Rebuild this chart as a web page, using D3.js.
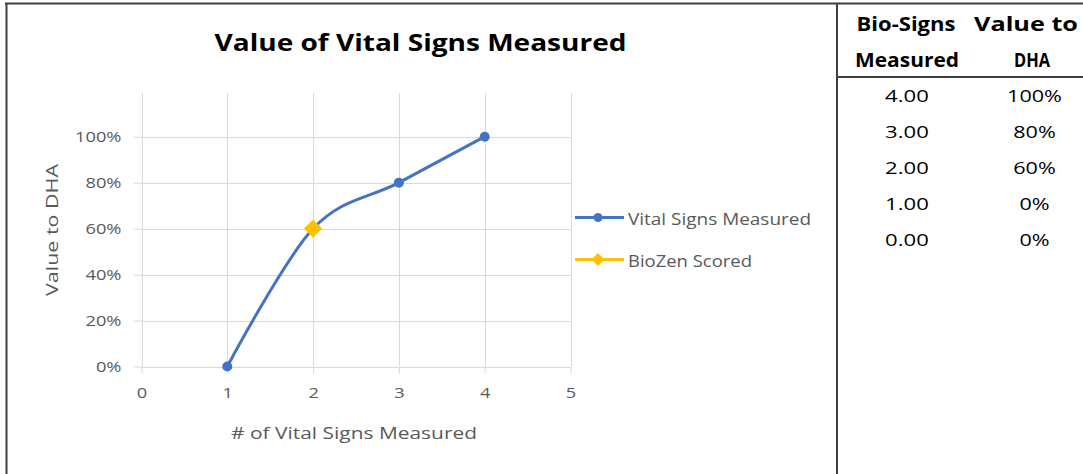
<!DOCTYPE html>
<html>
<head>
<meta charset="utf-8">
<script src="https://cdn.jsdelivr.net/npm/d3@7"></script>
<style>
  html, body { margin: 0; padding: 0; background: #fff; }
  svg { display: block; }
  text { font-family: "Open Sans", "Noto Sans", sans-serif; }
</style>
</head>
<body>
<svg id="chart" width="1083" height="474"></svg>
<script>
// ---- data ----
const vitalCounts = [1, 2, 3, 4];
const vitalValues = [0, 0.6, 0.8, 1.0];
const bioZenCounts = [2];
const bioZenValues = [0.6];
const xTickValues = [0, 1, 2, 3, 4, 5];
const yTickValues = [0, 0.2, 0.4, 0.6, 0.8, 1.0];
const seriesNames = ["Vital Signs Measured", "BioZen Scored"];
const tableHeaders = [["Bio-Signs", "Measured"], ["Value to", "DHA"]];
const tableSigns = [4, 3, 2, 1, 0];
const tableDha = [1.0, 0.8, 0.6, 0, 0];

const BLUE = "#4472C4", GOLD = "#FFC000", GREY_TXT = "#595959", GRID = "#d9d9d9";

const svg = d3.select("#chart");

// stretch a text element along its writing direction to a given length
function fitTo(sel, len) {
  sel.attr("textLength", len).attr("lengthAdjust", "spacingAndGlyphs");
}
function widen(sel, k) {
  sel.each(function () {
    const w = this.getComputedTextLength();
    d3.select(this).attr("textLength", w * k).attr("lengthAdjust", "spacingAndGlyphs");
  });
}

// ---- frame ----
const frame = svg.append("g").attr("fill", "none").attr("stroke", "#3f3f3f").attr("stroke-width", 2);
frame.append("line").attr("x1", 5).attr("x2", 1083).attr("y1", 3.5).attr("y2", 3.5);
frame.append("line").attr("x1", 6.5).attr("x2", 6.5).attr("y1", 3).attr("y2", 474);
frame.append("line").attr("x1", 837).attr("x2", 837).attr("y1", 3).attr("y2", 474);
frame.append("line").attr("x1", 837).attr("x2", 1083).attr("y1", 77).attr("y2", 77);

// ---- scales ----
const x = d3.scaleLinear().domain([0, 5]).range([141.5, 570.5]);
const y = d3.scaleLinear().domain([0, 1.19]).range([366.5, 93]);

// gridlines
const grid = svg.append("g").attr("stroke", GRID).attr("stroke-width", 1);
grid.selectAll("line.v").data(xTickValues).join("line").attr("class", "v")
  .attr("x1", d => Math.round(x(d)) + 0.5).attr("x2", d => Math.round(x(d)) + 0.5)
  .attr("y1", y.range()[1]).attr("y2", y(0));
grid.selectAll("line.h").data(yTickValues).join("line").attr("class", "h")
  .attr("x1", x(0)).attr("x2", x(5))
  .attr("y1", d => Math.round(y(d)) + 0.5).attr("y2", d => Math.round(y(d)) + 0.5);

// axes
const xAxis = svg.append("g").attr("transform", `translate(0,${Math.round(y(0)) + 0.5})`)
  .call(d3.axisBottom(x).tickValues(xTickValues).tickSize(6).tickPadding(14).tickFormat(d3.format("d")));
const yAxis = svg.append("g").attr("transform", `translate(${Math.round(x(0)) + 0.5},0)`)
  .call(d3.axisLeft(y).tickValues(yTickValues).tickSize(9).tickPadding(12).tickFormat(d3.format(".0%")));
[xAxis, yAxis].forEach(a => {
  a.select(".domain").remove();
  a.selectAll(".tick line").attr("stroke", GRID);
  a.selectAll(".tick text").attr("fill", GREY_TXT).attr("font-size", 15)
    .style("font-family", '"Open Sans", sans-serif');
});
xAxis.append("line").attr("x1", x(0)).attr("x2", x(5)).attr("stroke", GRID);
widen(xAxis.selectAll(".tick text"), 1.22);
widen(yAxis.selectAll(".tick text"), 1.22);

// ---- series ----
const vitalPts = vitalCounts.map((c, i) => [c, vitalValues[i]]);
const line = d3.line().x(d => x(d[0])).y(d => y(d[1])).curve(d3.curveCardinal.tension(0));
svg.append("path").datum(vitalPts).attr("d", line)
  .attr("fill", "none").attr("stroke", BLUE).attr("stroke-width", 3).attr("stroke-linecap", "round");
svg.selectAll("circle.vital").data(vitalPts).join("circle").attr("class", "vital")
  .attr("cx", d => x(d[0])).attr("cy", d => y(d[1])).attr("r", 5).attr("fill", BLUE);

const bioPts = bioZenCounts.map((c, i) => [c, bioZenValues[i]]);
const diamond = d3.symbol().type(d3.symbolDiamond2).size(210);
svg.selectAll("path.bio").data(bioPts).join("path").attr("class", "bio")
  .attr("d", diamond).attr("transform", d => `translate(${x(d[0])},${y(d[1])})`).attr("fill", GOLD);

// ---- title & axis titles ----
svg.append("text").attr("x", 420.5).attr("y", 51).attr("text-anchor", "middle")
  .attr("font-size", 23).attr("font-weight", "bold").attr("fill", "#000")
  .text("Value of Vital Signs Measured").call(fitTo, 412);
svg.append("text").attr("x", 354).attr("y", 439).attr("text-anchor", "middle")
  .attr("font-size", 17).attr("fill", GREY_TXT)
  .text("# of Vital Signs Measured").call(fitTo, 246);
svg.append("text").attr("transform", "translate(58,230) rotate(-90)").attr("text-anchor", "middle")
  .attr("font-size", 17).attr("fill", GREY_TXT)
  .text("Value to DHA").call(fitTo, 132);

// ---- legend ----
const legend = svg.append("g");
const legendRows = [
  { name: seriesNames[0], color: BLUE, shape: "circle", y: 217.5, len: 183 },
  { name: seriesNames[1], color: GOLD, shape: "diamond", y: 259.5, len: 124 }
];
legendRows.forEach(r => {
  legend.append("line").attr("x1", 575).attr("x2", 624).attr("y1", r.y).attr("y2", r.y)
    .attr("stroke", r.color).attr("stroke-width", 3);
  if (r.shape === "circle") {
    legend.append("circle").attr("cx", 598).attr("cy", r.y).attr("r", 4.5).attr("fill", r.color);
  } else {
    legend.append("path").attr("d", d3.symbol().type(d3.symbolDiamond2).size(110))
      .attr("transform", `translate(598,${r.y})`).attr("fill", r.color);
  }
  legend.append("text").attr("x", 628).attr("y", r.y + 7).attr("font-size", 16).attr("fill", GREY_TXT)
    .text(r.name).call(fitTo, r.len);
});

// ---- side table ----
const colX = [907, 1034.5];
const table = svg.append("g").attr("text-anchor", "middle").attr("fill", "#000");
const headerX = [[906, 907], [1026, 1032]];
const headerLen = [[99, 104], [104, 36]];
tableHeaders.forEach((lines, c) => {
  lines.forEach((t, l) => {
    table.append("text").attr("x", headerX[c][l]).attr("y", 31 + l * 36)
      .attr("font-size", 19).attr("font-weight", "bold").text(t).call(fitTo, headerLen[c][l]);
  });
});
const rowY = i => 102 + i * 36;
table.selectAll("text.sign").data(tableSigns).join("text").attr("class", "sign")
  .attr("x", colX[0]).attr("y", (d, i) => rowY(i)).attr("font-size", 17)
  .text(d => d3.format(".2f")(d)).call(widen, 1.3);
table.selectAll("text.dha").data(tableDha).join("text").attr("class", "dha")
  .attr("x", colX[1]).attr("y", (d, i) => rowY(i)).attr("font-size", 17)
  .text(d => d3.format(".0%")(d)).call(widen, 1.27);
</script>
</body>
</html>
